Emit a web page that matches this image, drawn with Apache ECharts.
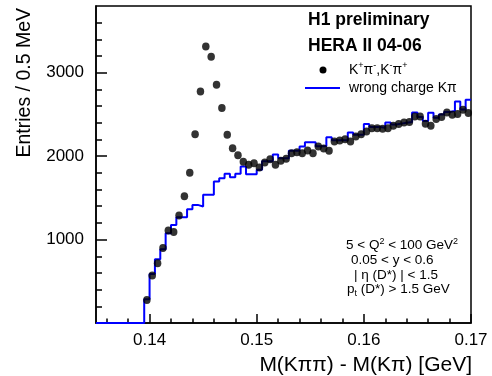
<!DOCTYPE html>
<html>
<head>
<meta charset="utf-8">
<script src="https://cdn.jsdelivr.net/npm/echarts@6/dist/echarts.min.js"></script>
<style>
  html, body { margin: 0; padding: 0; background: #fff; }
  #chart { width: 492px; height: 376px; }
</style>
</head>
<body>
<div id="chart"></div>
<script>
// ---------------- data ----------------
const BIN_WIDTH = 0.0005;           // 0.5 MeV bins
const HIST_START = 0.135;           // first edge of the wrong-charge histogram
const DATA_START = 0.1395;          // first edge of the data bins
// right-charge K+pi-, K-pi+ data (entries per bin, from bin starting at 0.1395)
const dataEntries = [276, 568, 716, 900, 1110, 1092, 1288, 1520, 1800, 2264,
  2776, 3316, 3192, 2856, 2576, 2256, 2096, 2012, 1932, 1896,
  1916, 1864, 1924, 1964, 1896, 1944, 1968, 2036, 2048, 2036,
  2068, 2036, 2116, 2092, 2064, 2176, 2188, 2204, 2176, 2236,
  2264, 2296, 2336, 2336, 2328, 2336, 2364, 2384, 2404, 2408,
  2476, 2476, 2388, 2364, 2444, 2468, 2524, 2496, 2504, 2556, 2516];
// wrong charge K pi histogram (from bin starting at 0.135)
const wrongCharge = [0, 0, 0, 0, 0, 0, 0, 0, 0,
  284, 588, 764, 884, 1076, 1176, 1268, 1268, 1364, 1416,
  1396, 1536, 1536, 1696, 1736, 1788, 1748, 1788, 1876, 1784,
  1784, 1836, 1940, 1940, 2020, 1975, 1975, 2064, 2064, 2116,
  2168, 2168, 2120, 2120, 2228, 2190, 2190, 2190, 2284, 2256,
  2256, 2384, 2350, 2350, 2340, 2404, 2380, 2390, 2400, 2410,
  2524, 2470, 2420, 2520, 2460, 2500, 2530, 2540, 2656, 2560, 2676];
const xLabels = [0.14, 0.15, 0.16, 0.17];
const xMinorTicks = [0.136, 0.138, 0.142, 0.144, 0.146, 0.148, 0.152, 0.154, 0.156, 0.158,
  0.162, 0.164, 0.166, 0.168];
const yLabels = [1000, 2000, 3000];
const yMajorTicks = [0, 1000, 2000, 3000];
const yMinorTicks = [200, 400, 600, 800, 1200, 1400, 1600, 1800, 2200, 2400, 2600, 2800,
  3200, 3400, 3600];

// ---------------- build ----------------
const pointData = dataEntries.map((v, i) => [DATA_START + (i + 0.5) * BIN_WIDTH, v]);
const histData = wrongCharge.map((v, i) => [HIST_START + i * BIN_WIDTH, v]);
histData.push([HIST_START + wrongCharge.length * BIN_WIDTH, wrongCharge[wrongCharge.length - 1]]);

const FONT = '"Liberation Sans", Arial, Helvetica, sans-serif';
const chart = echarts.init(document.getElementById('chart'), null, { renderer: 'canvas' });

const axisCommon = { type: 'value', splitLine: { show: false } };

chart.setOption({
  animation: false,
  backgroundColor: '#fff',
  grid: { left: 96, top: 6, width: 375, height: 317, show: true, borderColor: '#000', borderWidth: 1.5, backgroundColor: 'transparent' },
  xAxis: [
    Object.assign({}, axisCommon, {
      min: 0.135, max: 0.17,
      axisLine: { show: true, lineStyle: { color: '#000', width: 1.5 } },
      axisTick: { show: true, inside: true, length: 9, customValues: xLabels, lineStyle: { color: '#000', width: 1.5 } },
      axisLabel: { show: true, customValues: xLabels, margin: 9, color: '#000', fontSize: 17, fontFamily: FONT,
        formatter: v => String(+v.toFixed(3)) }
    }),
    Object.assign({}, axisCommon, {
      min: 0.135, max: 0.17, position: 'bottom', offset: 0,
      axisLine: { show: false },
      axisTick: { show: true, inside: true, length: 4.5, customValues: xMinorTicks, lineStyle: { color: '#000', width: 1.5 } },
      axisLabel: { show: false }
    })
  ],
  yAxis: [
    Object.assign({}, axisCommon, {
      min: 0, max: 3800,
      axisLine: { show: true, lineStyle: { color: '#000', width: 1.5 } },
      axisTick: { show: true, inside: true, length: 11, customValues: yMajorTicks, lineStyle: { color: '#000', width: 1.5 } },
      axisLabel: { show: true, customValues: yLabels, margin: 12, color: '#000', fontSize: 17, fontFamily: FONT,
        formatter: v => String(Math.round(v)) }
    }),
    Object.assign({}, axisCommon, {
      min: 0, max: 3800, position: 'left', offset: 0,
      axisLine: { show: false },
      axisTick: { show: true, inside: true, length: 6, customValues: yMinorTicks, lineStyle: { color: '#000', width: 1.5 } },
      axisLabel: { show: false }
    })
  ],
  series: [
    {
      type: 'line', name: 'wrong charge Kπ', xAxisIndex: 0, yAxisIndex: 0,
      data: histData, step: 'end', showSymbol: false, symbol: 'none',
      lineStyle: { color: '#0000ff', width: 2 }, clip: true, z: 2
    },
    {
      type: 'scatter', name: 'K+π-,K-π+', xAxisIndex: 0, yAxisIndex: 0,
      data: pointData, symbol: 'circle', symbolSize: [7.5, 8],
      itemStyle: { color: '#000' }, z: 3
    }
  ],
  graphic: [
    { type: 'text', x: 472, y: 365, style: { text: 'M(Kππ) - M(Kπ) [GeV]', font: '21px ' + FONT, fill: '#000', textAlign: 'right', textVerticalAlign: 'middle' } },
    { type: 'text', x: 25, y: 8, rotation: Math.PI / 2, style: { text: 'Entries / 0.5 MeV', font: '19.5px ' + FONT, fill: '#000', textAlign: 'right', textVerticalAlign: 'middle' } },
    { type: 'text', x: 308, y: 20, style: { text: 'H1 preliminary', font: 'bold 17.5px ' + FONT, fill: '#000', textAlign: 'left', textVerticalAlign: 'middle' } },
    { type: 'text', x: 308, y: 46, style: { text: 'HERA II 04-06', font: 'bold 17.5px ' + FONT, fill: '#000', textAlign: 'left', textVerticalAlign: 'middle' } },
    { type: 'circle', shape: { cx: 323, cy: 70, r: 3.5 }, style: { fill: '#000' } },
    { type: 'line', shape: { x1: 305, y1: 88, x2: 340, y2: 88 }, style: { stroke: '#0000ff', lineWidth: 2 } },
    { type: 'text', x: 349, y: 70, style: {
        text: '{b|K}{s|+}{b|π}{s|-}{b|,K}{s|-}{b|π}{s|+}',
        textAlign: 'left', textVerticalAlign: 'middle',
        rich: {
          b: { fontSize: 14, fontFamily: FONT, fill: '#000', lineHeight: 18 },
          s: { fontSize: 9, fontFamily: FONT, fill: '#000', verticalAlign: 'top', lineHeight: 10 }
        } } },
    { type: 'text', x: 349, y: 88, style: { text: 'wrong charge Kπ', font: '14px ' + FONT, fill: '#000', textAlign: 'left', textVerticalAlign: 'middle' } },
    { type: 'text', x: 346, y: 245, style: {
        text: '{b|5 < Q}{s|2}{b| < 100 GeV}{s|2}', textAlign: 'left', textVerticalAlign: 'middle',
        rich: {
          b: { fontSize: 13.5, fontFamily: FONT, fill: '#000', lineHeight: 16 },
          s: { fontSize: 9, fontFamily: FONT, fill: '#000', verticalAlign: 'top', lineHeight: 10 }
        } } },
    { type: 'text', x: 351, y: 260, style: { text: '0.05 < y < 0.6', font: '13.5px ' + FONT, fill: '#000', textAlign: 'left', textVerticalAlign: 'middle' } },
    { type: 'text', x: 354, y: 275, style: { text: '| η (D*) | < 1.5', font: '13.5px ' + FONT, fill: '#000', textAlign: 'left', textVerticalAlign: 'middle' } },
    { type: 'text', x: 347, y: 289, style: {
        text: '{b|p}{s|t}{b| (D*) > 1.5 GeV}', textAlign: 'left', textVerticalAlign: 'middle',
        rich: {
          b: { fontSize: 13.5, fontFamily: FONT, fill: '#000', lineHeight: 18 },
          s: { fontSize: 9, fontFamily: FONT, fill: '#000', verticalAlign: 'bottom', lineHeight: 10 }
        } } }
  ]
});
</script>
</body>
</html>
